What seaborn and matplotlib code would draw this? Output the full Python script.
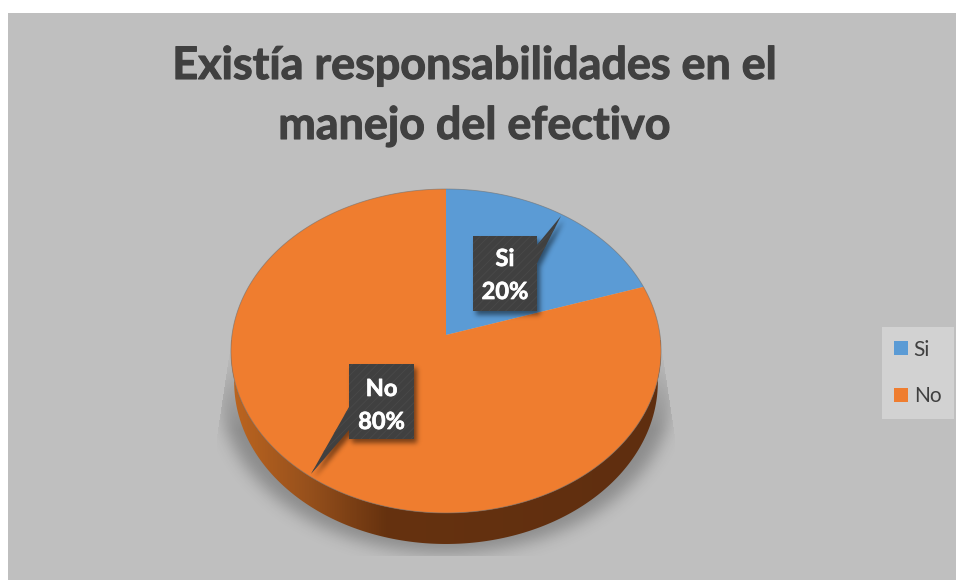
import numpy as np
import matplotlib
matplotlib.use("Agg")
import matplotlib.pyplot as plt
import matplotlib.patheffects as pe
import seaborn as sns
from matplotlib.colors import LinearSegmentedColormap
from matplotlib.patches import Polygon, Rectangle
from matplotlib.path import Path
from matplotlib.transforms import Affine2D

# Survey answers
categories = ["Si", "No"]
percentages = [20, 80]
title_lines = ["Existía responsabilidades en el", "manejo del efectivo"]

TEXT = "#404040"
PANEL = "#BFBFBF"
W, H = 956, 580

sns.set_theme(style="white")
plt.rcParams["font.family"] = ["Lato", "DejaVu Sans"]
plt.rcParams["hatch.linewidth"] = 0.7
palette = sns.color_palette(["#5B9BD5", "#EF7D2F"])

fig = plt.figure(figsize=(W / 100, H / 100), dpi=100, facecolor="white")
ax = fig.add_axes([0, 0, 1, 1])

# Perspective of the tilted disc: unit circle to canvas pixels
CX, RX, APEX_Y, YA, TILT, DEPTH = 446.0, 214.0, 335.0, -127.3, 0.0988, 31.0


def project(uv):
    u, v = uv[:, 0], uv[:, 1]
    d = 1 + TILT * v
    return np.column_stack([CX + RX * u / d, (YA * v + APEX_Y) / d])


yy, xx = np.mgrid[0:H, 0:W]
grid = np.column_stack([xx.ravel() + 0.5, yy.ravel() + 0.5])


def gaussian_blur(a, sigma):
    r = int(3 * sigma)
    k = np.exp(-0.5 * (np.arange(-r, r + 1) / sigma) ** 2)
    k /= k.sum()
    a = np.apply_along_axis(lambda c: np.convolve(c, k, mode="same"), 0, a)
    return np.apply_along_axis(lambda c: np.convolve(c, k, mode="same"), 1, a)


def soft_shadow(points, sigma, strength, zorder, clip=None, fade=None):
    mask = Path(points).contains_points(grid).reshape(H, W).astype(float)
    alpha = gaussian_blur(mask, sigma) * strength
    if clip is not None:
        alpha *= Path(clip).contains_points(grid).reshape(H, W)
    if fade is not None:
        alpha *= np.clip((yy - fade[0]) / (fade[1] - fade[0]), 0, 1)
    rgba = np.zeros((H, W, 4))
    rgba[..., 3] = alpha
    ax.imshow(rgba, extent=(0, W, H, 0), aspect="auto",
              interpolation="nearest", zorder=zorder)


ax.add_patch(Rectangle((8, 13), W - 8, H - 13, facecolor=PANEL, lw=0, zorder=0))

# Pie wedges, re-projected onto the tilted disc
wedges, _ = ax.pie(percentages, colors=palette, startangle=90, counterclock=False,
                   radius=1, center=(0, 0), frame=True)
projected = []
for w, name in zip(wedges, categories):
    up = Affine2D().scale(1000)
    flat = up.transform_path(w.get_path()).to_polygons(closed_only=True)[0] / 1000
    pts = project(flat)
    face = w.get_facecolor()
    w.remove()
    projected.append(ax.add_patch(Polygon(pts, closed=True, facecolor=face, lw=0,
                                          zorder=3, label=name)))

theta = np.linspace(0, 2 * np.pi, 721)
rim = project(np.column_stack([np.cos(theta), np.sin(theta)]))
ax.add_patch(Polygon(rim, closed=True, fill=False, edgecolor="#6E6E6E", lw=0.6,
                     alpha=0.6, zorder=3.5))

# Cast shadow beneath the disc
shadow_rim = rim * [1.05, 1.0] + [446 * (1 - 1.05), 40]
soft_shadow(shadow_rim, 8, 0.27, 1,
            clip=[(232, 337), (217, 437), (217, 556), (675, 556), (675, 437), (660, 337)],
            fade=(345, 430))

# Disc thickness with its horizontal shading; the far rim reads slightly narrower
low = np.linspace(np.pi, 2 * np.pi, 361)
low_rim = project(np.column_stack([np.cos(low), np.sin(low)]))
far_rim = (low_rim - [CX, 0]) * [0.985, 1.0] + [CX, DEPTH]
wall_pts = np.vstack([low_rim, far_rim[::-1]])
wall_cmap = LinearSegmentedColormap.from_list(
    "wall", [(0.0, "#BC6520"), (0.18, "#96501C"), (0.36, "#66320F"), (1.0, "#5F2E10")])
im = ax.imshow(np.linspace(0, 1, 430)[None, :], cmap=wall_cmap, extent=(231, 661, 550, 340),
               aspect="auto", zorder=2)
im.set_clip_path(Polygon(wall_pts, closed=True, transform=ax.transData))

# Value callouts
callouts = {
    "Si": {"shape": [(473, 236), (537, 236), (537, 245), (561, 216), (537, 263), (537, 311), (473, 311)],
           "x": 505, "base": (266, 299)},
    "No": {"shape": [(349, 364), (414, 364), (414, 439), (349, 439), (349, 430), (311, 474), (349, 407)],
           "x": 381.5, "base": (396, 429)},
}
label_stroke = [pe.withStroke(linewidth=0.5, foreground="white")]
for name, pct in zip(categories, percentages):
    c = callouts[name]
    pts = np.array(c["shape"], dtype=float)
    soft_shadow(pts + [3, 4], 2.5, 0.5, 4)
    ax.add_patch(Polygon(pts, closed=True, facecolor="#404040", edgecolor="#484848",
                         hatch="////", lw=0, zorder=5))
    ax.text(c["x"], c["base"][0], name, color="white", fontsize=17, fontweight="bold",
            ha="center", va="baseline", zorder=6, path_effects=label_stroke)
    ax.text(c["x"], c["base"][1], f"{pct}%", color="white", fontsize=17, fontweight="bold",
            ha="center", va="baseline", zorder=6, path_effects=label_stroke)

# Two-line heading
title_stroke = [pe.withStroke(linewidth=0.8, foreground=TEXT)]
for text, base in zip(title_lines, (79, 139)):
    ax.text(474, base, text, color=TEXT, fontsize=32.3, fontweight="bold",
            ha="center", va="baseline", zorder=6, path_effects=title_stroke)

ax.set_xlim(0, W)
ax.set_ylim(H, 0)
ax.set_aspect("auto")
ax.axis("off")

ax.legend(handles=projected, loc="upper left", bbox_to_anchor=(882, 327),
          bbox_transform=ax.transData, borderaxespad=0, borderpad=0.6,
          fontsize=15, handlelength=0.67, handleheight=0.67, handletextpad=0.25,
          labelspacing=1.28, frameon=True, fancybox=False, facecolor="#D2D2D2",
          edgecolor="none", framealpha=1, labelcolor=TEXT).set_zorder(6)

fig.savefig("out.png", dpi=100, facecolor="white")
